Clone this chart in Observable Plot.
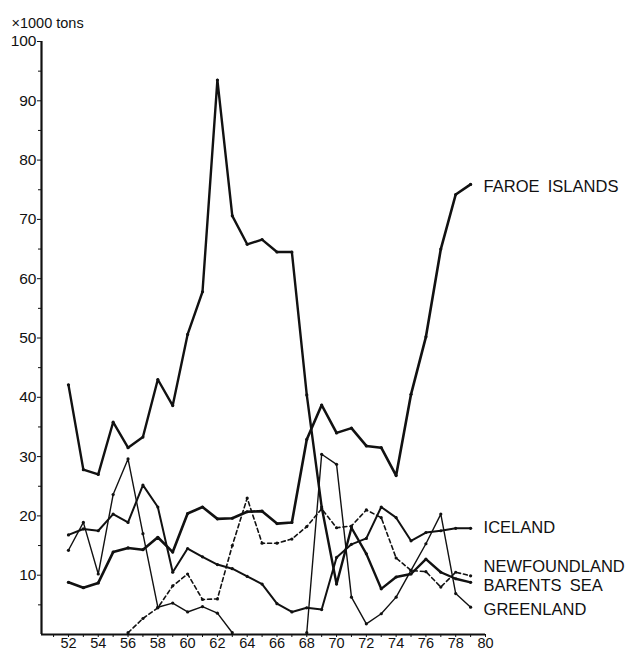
<!DOCTYPE html>
<html>
<head>
<meta charset="utf-8">
<script src="https://cdn.jsdelivr.net/npm/d3@7"></script>
<script src="https://cdn.jsdelivr.net/npm/@observablehq/plot@0.6"></script>
<style>
  html, body { margin: 0; padding: 0; background: #fff; }
  #chart svg { display: block; }
</style>
</head>
<body>
<div id="chart"></div>
<script>
// ---- data ----
const years = [52,53,54,55,56,57,58,59,60,61,62,63,64,65,66,67,68,69,70,71,72,73,74,75,76,77,78,79];

const faroeIslands = [8.8,7.9,8.7,13.9,14.6,14.3,16.4,13.9,20.4,21.5,19.5,19.6,20.7,20.8,18.7,18.9,32.9,38.7,34.0,34.8,31.8,31.5,26.8,40.5,50.2,65.0,74.2,75.9];
const iceland      = [16.8,17.8,17.5,20.3,18.9,25.2,21.5,10.5,14.5,13.1,11.8,11.1,9.8,8.5,5.2,3.8,4.5,4.2,13.0,15.2,16.2,21.5,19.7,15.8,17.2,17.5,17.9,17.9];
const newfoundland = [null,null,null,null,0.3,2.7,4.5,8.2,10.2,5.9,6.0,15.0,23.0,15.4,15.4,16.1,18.2,21.2,18.0,18.3,21.0,19.7,12.9,10.8,10.6,8.0,10.5,9.9];
const barentsSea   = [42.1,27.8,27.0,35.8,31.5,33.3,43.0,38.6,50.6,57.8,93.5,70.6,65.8,66.6,64.5,64.5,40.4,21.5,8.5,18.0,13.6,7.7,9.7,10.2,12.7,10.5,9.4,8.8];
const greenland    = [14.2,18.9,10.2,23.6,29.6,17.0,4.6,5.3,3.8,4.7,3.6,0.3,null,null,null,null,0.3,30.4,28.7,6.3,1.8,3.5,6.3,10.8,15.3,20.3,6.9,4.6];

const seriesNames  = ["FAROE\u2002ISLANDS","ICELAND","NEWFOUNDLAND","BARENTS\u2002SEA","GREENLAND"];
const seriesValues = [faroeIslands, iceland, newfoundland, barentsSea, greenland];

const yTickLabels = [10,20,30,40,50,60,70,80,90,100];
const xTickLabels = [52,54,56,58,60,62,64,66,68,70,72,74,76,78,80];
const yUnit = "\u00d71000 tons";

// ---- styles (kept apart from the data) ----
const ink = "#111";
const styles = [
  {strokeWidth: 2.6, dash: null, labelDy: 2},
  {strokeWidth: 2.0, dash: null, labelDy: -1},
  {strokeWidth: 1.6, dash: "4,3", labelDy: -9},
  {strokeWidth: 2.4, dash: null, labelDy: 3},
  {strokeWidth: 1.4, dash: null, labelDy: 2.5}
];

const rows = [];
seriesNames.forEach((name, k) => {
  years.forEach((yr, i) => rows.push({series: name, k, year: yr, value: seriesValues[k][i]}));
});
const defined = rows.filter(d => d.value != null);

const xDomain = [50.19, 80];

const marks = [
  Plot.ruleY([0], {stroke: ink, strokeWidth: 2}),
  Plot.ruleX([xDomain[0]], {stroke: ink, strokeWidth: 2.2}),
  Plot.axisY({ticks: yTickLabels, tickSize: 4, tickPadding: 1, fontSize: 15.5, label: null, stroke: ink, fill: ink}),
  Plot.axisY({ticks: d3.range(5, 100, 10), tickSize: 3, text: null, label: null, stroke: ink}),
  Plot.axisX({ticks: xTickLabels, tickSize: 3, tickPadding: 0, fontSize: 14.5, label: null, stroke: ink, fill: ink, tickFormat: d => String(d)}),
  Plot.axisX({ticks: d3.range(51, 80, 2), tickSize: 3, text: null, label: null, stroke: ink})
];

seriesNames.forEach((name, k) => {
  const st = styles[k];
  marks.push(Plot.line(rows.filter(d => d.k === k), {
    x: "year", y: "value", stroke: ink, strokeWidth: st.strokeWidth,
    strokeDasharray: st.dash, strokeLinejoin: "round", curve: "linear"
  }));
});
marks.push(Plot.dot(defined, {x: "year", y: "value", r: 1.6, fill: ink, stroke: null}));

seriesNames.forEach((name, k) => {
  const last = rows.filter(d => d.k === k && d.value != null).at(-1);
  marks.push(Plot.text([last], {
    x: "year", y: "value", text: () => name, dx: 13, dy: styles[k].labelDy,
    textAnchor: "start", fontSize: 16.5, fill: ink
  }));
});

marks.push(Plot.text([yUnit], {
  frameAnchor: "top-left", text: d => d, dx: -30, dy: -18,
  textAnchor: "start", lineAnchor: "middle", fontSize: 14.5, fill: ink
}));

const chart = Plot.plot({
  width: 637,
  height: 655,
  marginLeft: 41,
  marginRight: 152,
  marginTop: 41,
  marginBottom: 21,
  x: {domain: xDomain},
  y: {domain: [0, 100]},
  style: {fontFamily: "'Liberation Sans', Arial, Helvetica, sans-serif", color: ink, background: "#fff"},
  marks
});
document.getElementById("chart").appendChild(chart);
</script>
</body>
</html>
